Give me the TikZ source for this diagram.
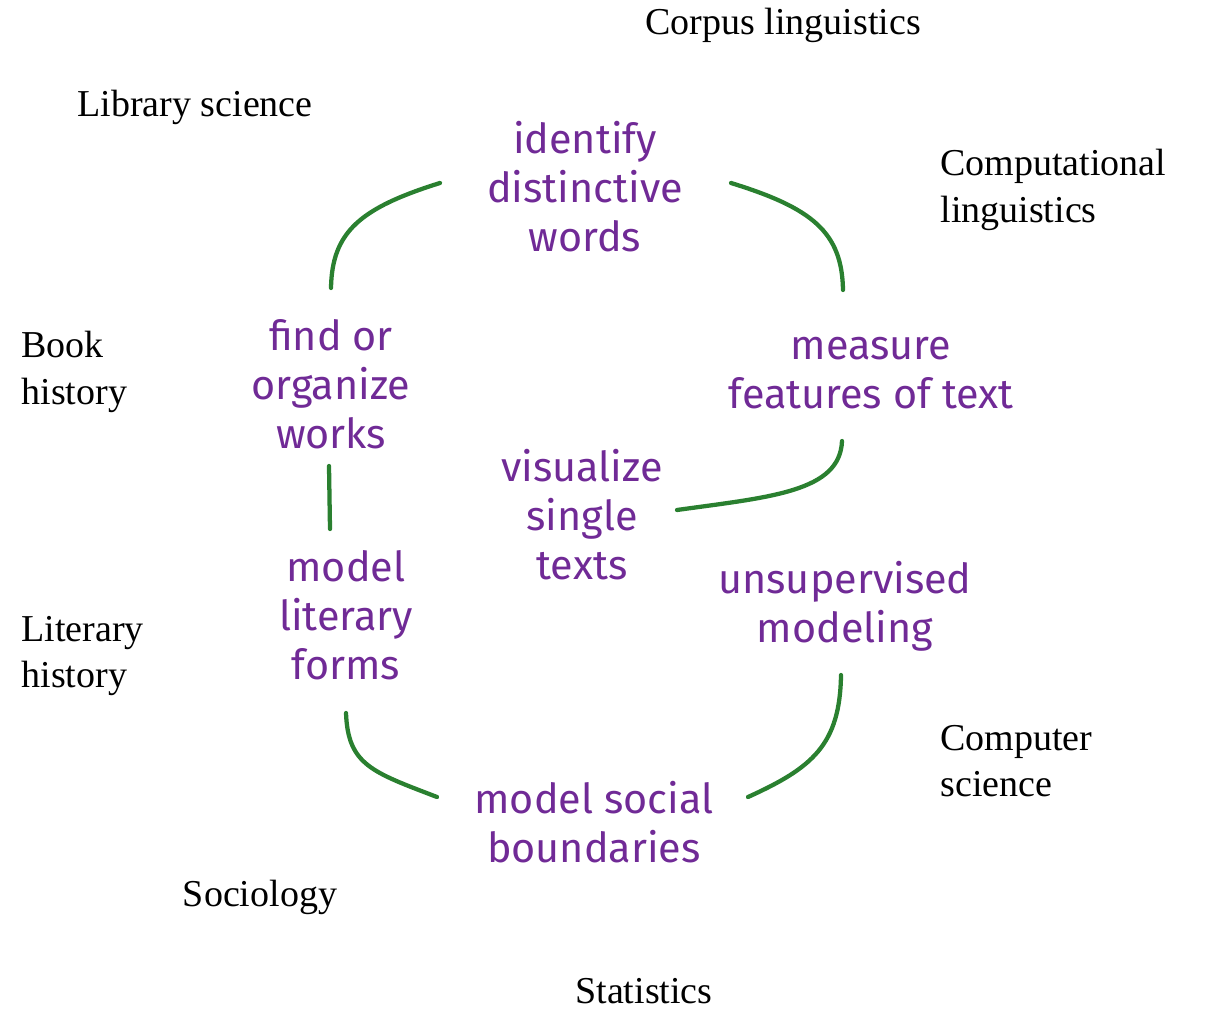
\documentclass[tikz,border=0pt]{standalone}
\usepackage{fontspec}
\setmainfont{Liberation Serif}
\newfontfamily\handfont{Fira Sans}
\definecolor{taskpurple}{RGB}{112,42,150}
\definecolor{loopgreen}{RGB}{42,128,48}

\tikzset{every picture/.style={line width=0.75pt}}
\tikzset{
  task/.style={text=taskpurple, align=center, inner sep=0.75pt,
    font=\handfont\fontsize{31}{36.75}\selectfont},
  field/.style={text=black, inner sep=0.75pt,
    font=\fontsize{28.5}{35}\selectfont},
  loop/.style={draw=loopgreen, line width=3.2pt, line cap=round}
}

\begin{document}
\begin{tikzpicture}[x=0.75pt,y=0.75pt,yscale=-1,xscale=1]
	\useasboundingbox (0,0) rectangle (1207,1012);

	% Text Node
	\node [task] (idw) at (585,187) {identify\\distinctive\\words};
	% Text Node
	\node [task] (fow) at (331,384) {find or\\organize\\works};
	% Text Node
	\node [task] (mft) at (871,373) {measure\\features of text};
	% Text Node
	\node [task] (vst) at (582,515) {visualize\\single\\texts};
	% Text Node
	\node [task] (mlf) at (346,615) {model\\literary\\forms};
	% Text Node
	\node [task] (unm) at (845,606) {unsupervised\\modeling};
	% Text Node
	\node [task] (msb) at (594,822) {model social\\boundaries};

	% Text Node
	\node [field] (corp) at (783,25) {Corpus linguistics};
	% Text Node
	\node [field] (libr) at (195,107) {Library science};
	% Text Node
	\node [field, align=left, anchor=west] (comp) at (939,190) {Computational\\linguistics};
	% Text Node
	\node [field, align=left, anchor=west] (book) at (20,372) {Book\\history};
	% Text Node
	\node [field, align=left, anchor=west] (lith) at (20,656) {Literary\\history};
	% Text Node
	\node [field, align=left, anchor=west] (csci) at (939,761) {Computer\\science};
	% Text Node
	\node [field] (soci) at (260,897) {Sociology};
	% Text Node
	\node [field] (stat) at (644,991) {Statistics};

	% ends of the green strokes
	\coordinate (idw-l) at (440,183);
	\coordinate (idw-r) at (731,183);
	\coordinate (fow-t) at (331,288);
	\coordinate (mft-t) at (843,290);
	\coordinate (fow-b) at (329,466);
	\coordinate (mlf-t) at (330,529);
	\coordinate (vst-r) at (677,510);
	\coordinate (mft-b) at (842,441);
	\coordinate (mlf-b) at (346,713);
	\coordinate (msb-l) at (437,797);
	\coordinate (msb-r) at (748,797);
	\coordinate (unm-b) at (841,675);

	%Curve Lines
	\draw [loop] (idw-l) .. controls (360,208) and (332,232) .. (fow-t) ;
	%Curve Lines
	\draw [loop] (idw-r) .. controls (812,208) and (842,232) .. (mft-t) ;
	%Straight Lines
	\draw [loop] (fow-b) -- (mlf-t) ;
	%Curve Lines
	\draw [loop] (vst-r) .. controls (770,497) and (840,492) .. (mft-b) ;
	%Curve Lines
	\draw [loop] (mlf-b) .. controls (348,765) and (372,772) .. (msb-l) ;
	%Curve Lines
	\draw [loop] (msb-r) .. controls (812,768) and (840,745) .. (unm-b) ;

\end{tikzpicture}
\end{document}
